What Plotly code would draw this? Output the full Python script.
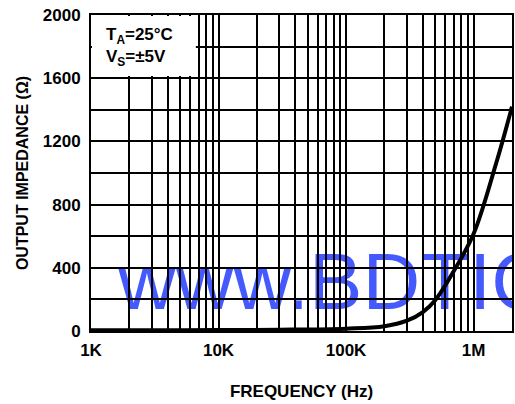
import plotly.graph_objects as go

# data
freq_hz = [1e3, 3e3, 1e4, 3e4, 1e5, 2e5, 3e5, 4e5, 5e5, 7e5, 1e6, 1.5e6, 2e6]
impedance_ohm = [5, 5, 6, 8, 15, 30, 65, 120, 195, 380, 615, 1060, 1420]

x_major = [1e3, 1e4, 1e5, 1e6]
x_major_labels = ["1K", "10K", "100K", "1M"]
y_grid = [0, 200, 400, 600, 800, 1000, 1200, 1400, 1600, 1800, 2000]
y_labels = ["0", "", "400", "", "800", "", "1200", "", "1600", "", "2000"]

# grid positions for log axis (1..9 in each decade up to 2M)
x_grid = []
x_grid_text = []
for d in x_major:
    for m in range(1, 10):
        v = d * m
        if v > 2e6 * 1.0001:
            break
        x_grid.append(v)
        x_grid_text.append(x_major_labels[x_major.index(d)] if m == 1 else "")

FONT = "Liberation Sans, Arial, Helvetica, sans-serif"

fig = go.Figure()

# watermark in a lower subplot so the grid sits above it
fig.add_trace(go.Scatter(
    x=[0.064], y=[0.134], mode="text", text=["www.BDTIC.com"],
    textposition="middle right",
    textfont=dict(family=FONT, size=80, color="rgb(68,90,255)"),
    xaxis="x", yaxis="y", hoverinfo="skip", showlegend=False, cliponaxis=True,
))

fig.add_trace(go.Scatter(
    x=freq_hz, y=impedance_ohm, mode="lines",
    line=dict(color="black", width=4, shape="spline", smoothing=1.0),
    xaxis="x2", yaxis="y2", showlegend=False,
))

fig.update_layout(
    width=515, height=404,
    margin=dict(l=91, r=3, t=15, b=73),
    paper_bgcolor="white", plot_bgcolor="rgba(0,0,0,0)",
    font=dict(family=FONT, size=13, color="black"),
    xaxis=dict(domain=[0, 1], range=[0, 1], visible=False, fixedrange=True),
    yaxis=dict(domain=[0, 1], range=[0, 1], visible=False, fixedrange=True),
    xaxis2=dict(
        domain=[0, 1], anchor="y2", type="log",
        range=[3, 6.30103],
        tickvals=x_grid, ticktext=x_grid_text,
        showgrid=True, gridcolor="black", gridwidth=1.6,
        showline=True, linecolor="black", linewidth=2, mirror=True,
        ticks="", ticklabelstandoff=3, automargin=False, ticklabeloverflow="allow",
        tickfont=dict(family=FONT, size=17, color="black", weight="bold"),
        title=dict(text="<b>FREQUENCY (Hz)</b>", font=dict(family=FONT, size=17), standoff=26),
        zeroline=False,
    ),
    yaxis2=dict(
        domain=[0, 1], anchor="x2",
        range=[0, 2000],
        tickvals=y_grid, ticktext=y_labels,
        showgrid=True, gridcolor="black", gridwidth=1.6,
        showline=True, linecolor="black", linewidth=2, mirror=True,
        ticks="", ticklabelstandoff=5, automargin=False, ticklabeloverflow="allow",
        tickfont=dict(family=FONT, size=17, color="black", weight="bold"),
        title=dict(text="<b>OUTPUT IMPEDANCE (Ω)</b>", font=dict(family=FONT, size=16), standoff=10),
        zeroline=False,
    ),
    shapes=[dict(
        type="rect", xref="paper", yref="paper",
        x0=0.0024, x1=0.249, y0=0.807, y1=0.997,
        fillcolor="white", line=dict(width=0), layer="above",
    )],
    annotations=[dict(
        xref="paper", yref="paper", x=0.033, y=0.972, xanchor="left", yanchor="top",
        text="<b>T<sub>A</sub>=25°C<br>V<sub>S</sub>=±5V</b>",
        showarrow=False, align="left",
        font=dict(family=FONT, size=17, color="black"),
        borderpad=0,
    )],
)

fig.write_html(
    "out.html",
    config={"displayModeBar": False},
    post_script="document.body.style.margin='0';document.body.style.overflow='hidden';",
)
